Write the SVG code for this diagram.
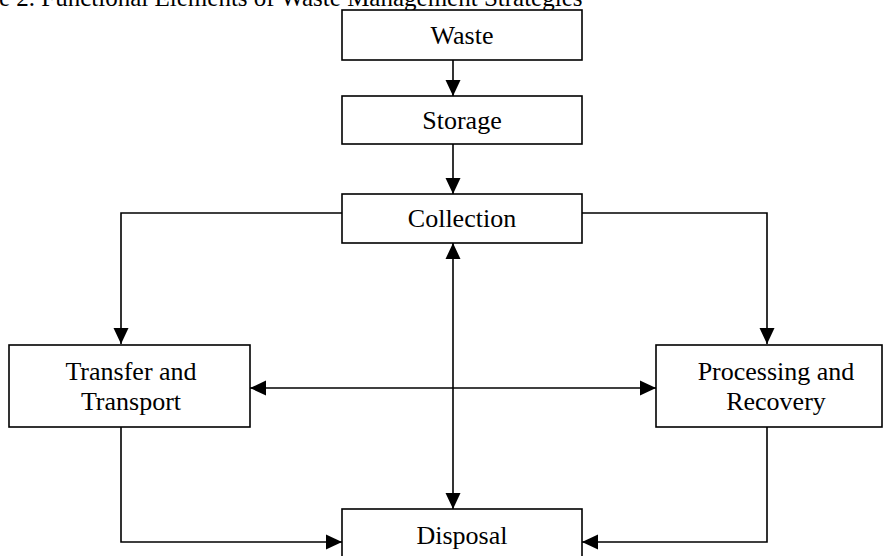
<svg xmlns="http://www.w3.org/2000/svg" width="886" height="556" viewBox="0 0 886 556">
<style>
  .box { fill: #ffffff; stroke: #000000; stroke-width: 1.6; }
  .lbl { font-family: "Liberation Serif", "Times New Roman", serif; font-size: 26px; fill: #000000; text-anchor: middle; }
  .title { font-family: "Liberation Serif", "Times New Roman", serif; font-size: 25px; fill: #000000; }
  .con { fill: none; stroke: #000000; stroke-width: 1.6; }
</style>
<defs>
  <marker id="arr" markerUnits="userSpaceOnUse" markerWidth="17" markerHeight="16" viewBox="0 0 17 16" refX="16" refY="8" orient="auto-start-reverse">
    <path d="M0,0.5 L16,8 L0,15.5 z" fill="#000000"/>
  </marker>
</defs>
<rect width="886" height="556" fill="#ffffff"/>
<text class="title" x="-1" y="6">e 2. Functional Elements of Waste Management Strategies</text>
<g id="connectors">
  <line class="con" x1="453" y1="60" x2="453" y2="96" marker-end="url(#arr)"/>
  <line class="con" x1="453" y1="144" x2="453" y2="194" marker-end="url(#arr)"/>
  <polyline class="con" points="342,213 121,213 121,344" marker-end="url(#arr)"/>
  <polyline class="con" points="582,213 767,213 767,344" marker-end="url(#arr)"/>
  <line class="con" x1="453" y1="243" x2="453" y2="509" marker-start="url(#arr)" marker-end="url(#arr)"/>
  <line class="con" x1="250" y1="388" x2="656" y2="388" marker-start="url(#arr)" marker-end="url(#arr)"/>
  <polyline class="con" points="121,427 121,542 342,542" marker-end="url(#arr)"/>
  <polyline class="con" points="767,427 767,542 582,542" marker-end="url(#arr)"/>
</g>
<g id="waste">
  <rect class="box" x="342" y="10" width="240" height="50"/>
  <text class="lbl" x="462" y="44">Waste</text>
</g>
<g id="storage">
  <rect class="box" x="342" y="96" width="240" height="48"/>
  <text class="lbl" x="462" y="129">Storage</text>
</g>
<g id="collection">
  <rect class="box" x="342" y="194" width="240" height="49"/>
  <text class="lbl" x="462" y="227">Collection</text>
</g>
<g id="transfer">
  <rect class="box" x="9" y="345" width="241" height="82"/>
  <text class="lbl" x="131" y="380">Transfer and</text>
  <text class="lbl" x="131" y="410">Transport</text>
</g>
<g id="processing">
  <rect class="box" x="656" y="345" width="226" height="82"/>
  <text class="lbl" x="776" y="380">Processing and</text>
  <text class="lbl" x="776" y="410">Recovery</text>
</g>
<g id="disposal">
  <rect class="box" x="342" y="509" width="240" height="60"/>
  <text class="lbl" x="462" y="544">Disposal</text>
</g>
</svg>
